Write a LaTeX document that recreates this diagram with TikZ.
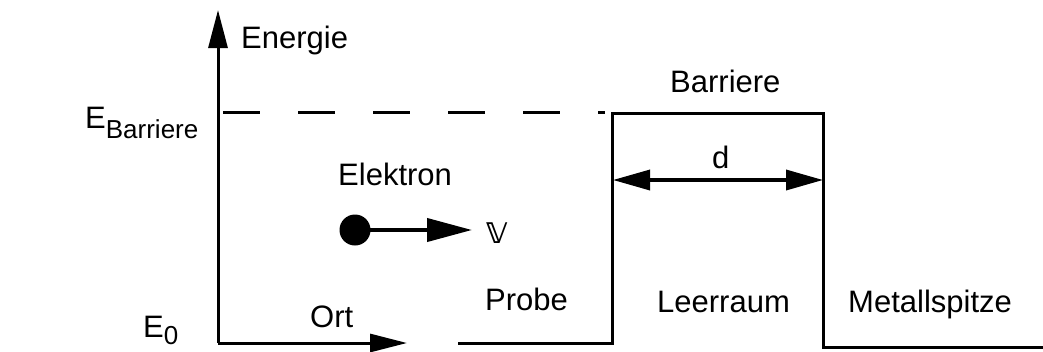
\documentclass[tikz,border=0pt]{standalone}
\usepackage{fontspec}
\setmainfont{Liberation Sans}
\newfontfamily\dejavu{DejaVu Sans}
\usetikzlibrary{arrows.meta}
\tikzset{
  lbl/.style={anchor=base west, inner sep=0pt, font=\fontsize{31}{36}\selectfont},
  ln/.style={line width=3pt},
  axarrow/.style={ln, -{Triangle[length=38pt,width=19pt]}},
}
\begin{document}
\begin{tikzpicture}[x=1pt,y=-1pt]
\useasboundingbox (0,0) rectangle (1043,351);
% axes
\coordinate (o) at (218,343);
\coordinate (ytip) at (218,10);
\coordinate (xtip) at (407,343);
\draw[axarrow] (o) -- (ytip);
\draw[ln, -{Triangle[length=37pt,width=18pt]}] (o) -- (xtip);
% potential profile
\coordinate (p1) at (458,343);
\coordinate (p2) at (612,343);
\coordinate (p3) at (612,113);
\coordinate (p4) at (823,113);
\coordinate (p5) at (823,347);
\coordinate (p6) at (1043,347);
\draw[ln, line join=miter] (p1) -- (p2) -- (p3) -- (p4) -- (p5) -- (p6);
% dashed barrier level
\coordinate (d1) at (223,112);
\coordinate (d2) at (605,112);
\draw[ln, dash pattern=on 37pt off 38pt] (d1) -- (d2);
% electron
\node[circle, fill=black, minimum size=31pt, inner sep=0pt] (el) at (355,230) {};
\coordinate (vtip) at (472,230);
\draw[line width=4pt, -{Triangle[length=45pt,width=23pt]}] (el.center) -- (vtip);
\node[anchor=base west, inner sep=0pt, font=\dejavu\fontsize{38}{42}\selectfont] (v) at (485,243) {𝕧};
% d arrow
\coordinate (da) at (613,180);
\coordinate (db) at (823,180);
\draw[line width=3.5pt, {Triangle[length=37pt,width=20pt]}-{Triangle[length=37pt,width=20pt]}] (da) -- (db);
% labels
\node[lbl] (energie) at (241,48) {Energie};
\node[lbl] (ebar) at (85,128) {E\lower10pt\hbox{\fontsize{26}{30}\selectfont Barriere}};
\node[lbl] (e0) at (143,337) {E\lower7pt\hbox{\fontsize{26}{30}\selectfont 0}};
\node[lbl] (elektron) at (338,185) {Elektron};
\node[lbl] (ort) at (310,327) {Ort};
\node[lbl] (probe) at (485,310) {Probe};
\node[lbl] (barriere) at (670,92) {Barriere};
\node[lbl] (dl) at (712,168) {d};
\node[lbl] (leer) at (657,312) {Leerraum};
\node[lbl] (metall) at (848,312) {Metallspitze};
\end{tikzpicture}
\end{document}
